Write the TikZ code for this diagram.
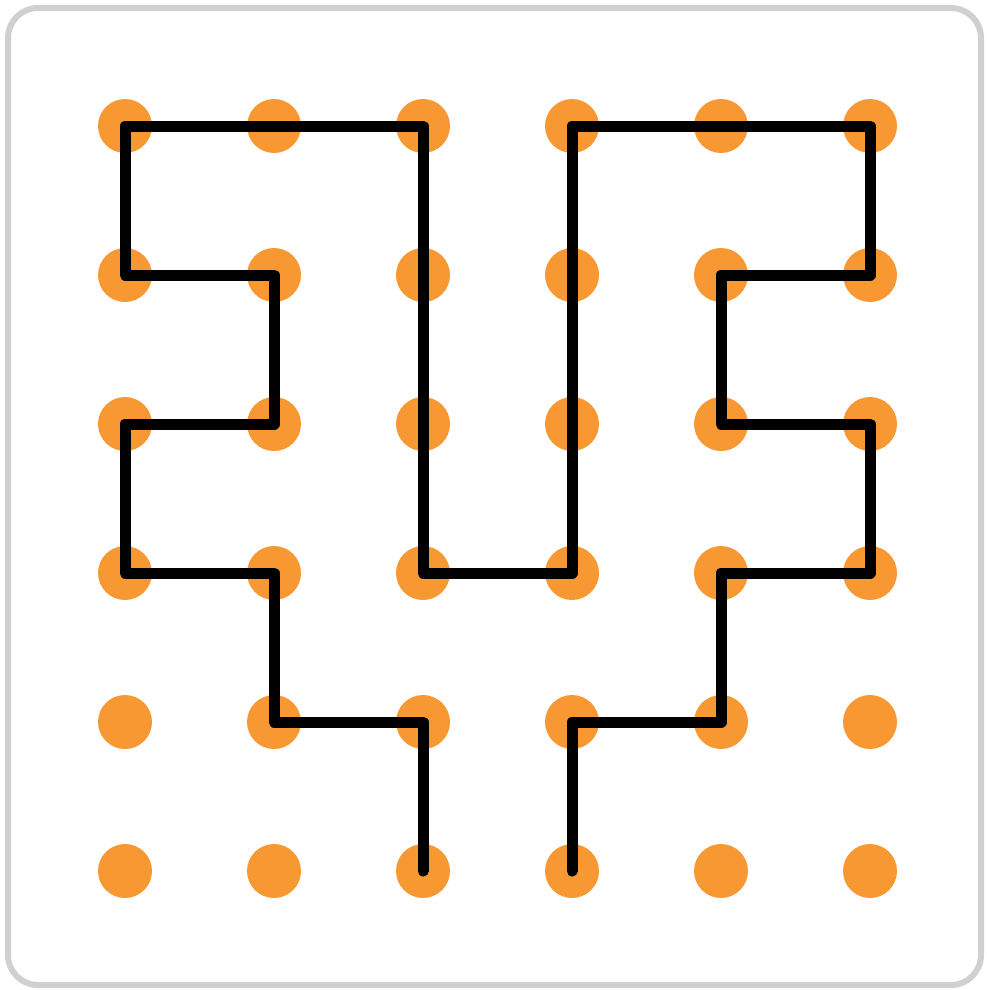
\documentclass[tikz,border=0pt]{standalone}
\definecolor{dotorange}{RGB}{247,152,50}
\definecolor{framegray}{RGB}{208,208,208}
\begin{document}
\begin{tikzpicture}[x=1pt,y=-1pt,
  gdot/.style={circle,fill=dotorange,inner sep=0pt,minimum size=54pt},
  route/.style={line width=11pt,line cap=round,line join=round,black}]
\useasboundingbox (0,0) rectangle (986,990);
\draw[framegray,line width=6pt,rounded corners=30pt] (8,8) rectangle (981,985);
\foreach \c in {1,...,6}{
  \foreach \r in {1,...,6}{
    \node[gdot] (d-\c-\r) at ({125+149*(\c-1)},{126+149*(\r-1)}) {};
  }
}
\draw[route] (d-3-6.center) -- (d-3-5.center) -- (d-2-5.center) -- (d-2-4.center)
  -- (d-1-4.center) -- (d-1-3.center) -- (d-2-3.center) -- (d-2-2.center)
  -- (d-1-2.center) -- (d-1-1.center) -- (d-3-1.center) -- (d-3-4.center)
  -- (d-4-4.center) -- (d-4-1.center) -- (d-6-1.center) -- (d-6-2.center)
  -- (d-5-2.center) -- (d-5-3.center) -- (d-6-3.center) -- (d-6-4.center)
  -- (d-5-4.center) -- (d-5-5.center) -- (d-4-5.center) -- (d-4-6.center);
\end{tikzpicture}
\end{document}
